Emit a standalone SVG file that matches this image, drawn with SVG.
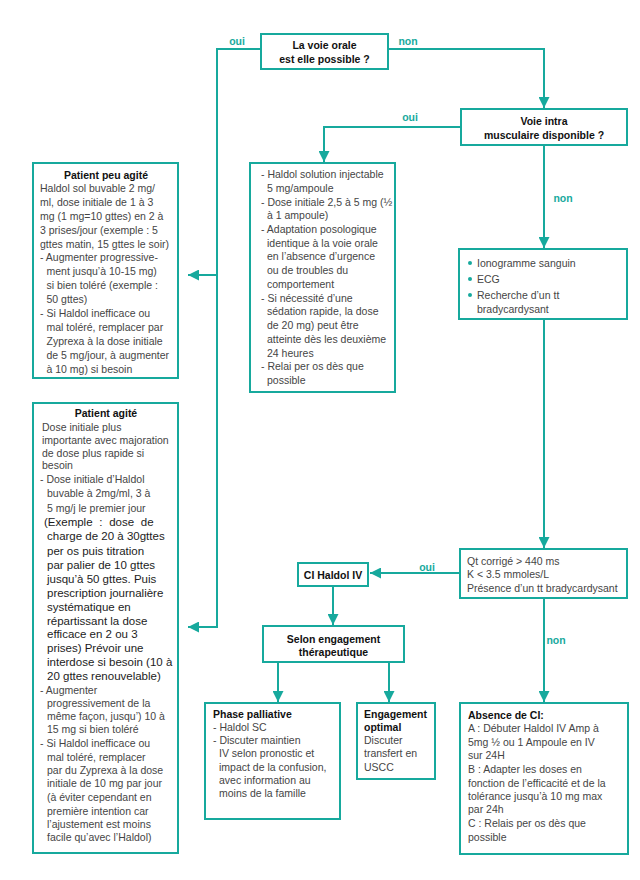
<svg xmlns="http://www.w3.org/2000/svg" width="640" height="880" viewBox="0 0 640 880">
<style>
.box{fill:#fff;stroke:#17a99d;stroke-width:2}
.ln{fill:none;stroke:#17a99d;stroke-width:2}
text{font-family:"Liberation Sans",Arial,sans-serif;font-size:10.5px;fill:#454545}
.b{font-weight:bold;fill:#111}
.c{text-anchor:middle}
.lab{font-weight:bold;fill:#17a99d;font-size:10.5px;text-anchor:middle}
.dk{fill:#1c1c1c;font-size:11.5px}
.dot{fill:#17a99d}
</style>
<defs>
<marker id="ah" viewBox="0 0 10 10" refX="10" refY="5" markerWidth="5.5" markerHeight="5.5" markerUnits="strokeWidth" orient="auto">
<path d="M0,0 L10,5 L0,10 z" fill="#17a99d"/>
</marker>
</defs>
<rect width="640" height="880" fill="#fff"/>

<g id="connectors">
<path class="ln" d="M261,49 H217 V627 H188" marker-end="url(#ah)"/>
<path class="ln" d="M217,275 H188" marker-end="url(#ah)"/>
<path class="ln" d="M388,49 H544 V108" marker-end="url(#ah)"/>
<path class="ln" d="M461,127 H324 V162" marker-end="url(#ah)"/>
<path class="ln" d="M544,145 V248" marker-end="url(#ah)"/>
<path class="ln" d="M544,319 V548" marker-end="url(#ah)"/>
<path class="ln" d="M460,573 H370" marker-end="url(#ah)"/>
<path class="ln" d="M333,586 V625" marker-end="url(#ah)"/>
<path class="ln" d="M278,662 V702" marker-end="url(#ah)"/>
<path class="ln" d="M389,662 V702" marker-end="url(#ah)"/>
<path class="ln" d="M544,598 V702" marker-end="url(#ah)"/>
<text class="lab" x="237" y="45">oui</text>
<text class="lab" x="408" y="45">non</text>
<text class="lab" x="410" y="121">oui</text>
<text class="lab" x="563" y="202">non</text>
<text class="lab" x="427" y="571">oui</text>
<text class="lab" x="556" y="644">non</text>
</g>

<g id="voie-orale">
<rect class="box" x="261" y="34" width="127" height="35"/>
<text class="b c" x="324.5" y="49">La voie orale</text>
<text class="b c" x="324.5" y="63">est elle possible ?</text>
</g>

<g id="voie-im">
<rect class="box" x="461" y="109" width="166" height="36"/>
<text class="b c" x="544" y="125">Voie intra</text>
<text class="b c" x="544" y="139">musculaire disponible ?</text>
</g>

<g id="patient-peu-agite">
<rect class="box" x="33" y="163" width="145" height="215"/>
<text class="b c" x="106" y="179">Patient peu agité</text>
<text x="40" y="192">Haldol sol buvable 2 mg/</text>
<text x="40" y="206">ml, dose initiale de 1 à 3</text>
<text x="40" y="220">mg (1 mg=10 gttes) en 2 à</text>
<text x="40" y="234">3 prises/jour (exemple : 5</text>
<text x="40" y="248">gttes matin, 15 gttes le soir)</text>
<text x="40" y="261">- Augmenter progressive-</text>
<text x="46.5" y="275">ment jusqu’à 10-15 mg)</text>
<text x="46.5" y="289">si bien toléré (exemple :</text>
<text x="46.5" y="303">50 gttes)</text>
<text x="40" y="317">- Si Haldol inefficace ou</text>
<text x="46.5" y="331">mal toléré, remplacer par</text>
<text x="46.5" y="345">Zyprexa à la dose initiale</text>
<text x="46.5" y="359">de 5 mg/jour, à augmenter</text>
<text x="46.5" y="373">à 10 mg) si besoin</text>
</g>

<g id="haldol-im">
<rect class="box" x="250" y="163" width="145" height="229"/>
<text x="261" y="178">- Haldol solution injectable</text>
<text x="267" y="191.7">5 mg/ampoule</text>
<text x="261" y="205.5">- Dose initiale 2,5 à 5 mg (½</text>
<text x="267" y="219.2">à 1 ampoule)</text>
<text x="261" y="232.9">- Adaptation posologique</text>
<text x="267" y="246.7">identique à la voie orale</text>
<text x="267" y="260.4">en l’absence d’urgence</text>
<text x="267" y="274.1">ou de troubles du</text>
<text x="267" y="287.8">comportement</text>
<text x="261" y="301.6">- Si nécessité d’une</text>
<text x="267" y="315.3">sédation rapide, la dose</text>
<text x="267" y="329">de 20 mg) peut être</text>
<text x="267" y="342.8">atteinte dès les deuxième</text>
<text x="267" y="356.5">24 heures</text>
<text x="261" y="370.2">- Relai per os dès que</text>
<text x="267" y="384">possible</text>
</g>

<g id="bilan">
<rect class="box" x="459" y="249" width="168" height="70"/>
<circle class="dot" cx="470" cy="263" r="2"/>
<circle class="dot" cx="470" cy="279" r="2"/>
<circle class="dot" cx="470" cy="295" r="2"/>
<text x="477" y="267">Ionogramme sanguin</text>
<text x="477" y="283">ECG</text>
<text x="477" y="299">Recherche  d’un tt</text>
<text x="477" y="313">bradycardysant</text>
</g>

<g id="patient-agite">
<rect class="box" x="33" y="403" width="145" height="450"/>
<text class="b c" x="106" y="417">Patient agité</text>
<text x="42" y="431">Dose initiale plus</text>
<text x="42" y="444">importante avec majoration</text>
<text x="42" y="457">de dose plus rapide si</text>
<text x="42" y="469">besoin</text>
<text x="40" y="483">- Dose initiale d’Haldol</text>
<text x="47" y="497">buvable à 2mg/ml, 3 à</text>
<text x="47" y="512">5 mg/j le premier jour</text>
<text class="dk" x="44" y="526" word-spacing="3.5">(Exemple : dose de</text>
<text class="dk" x="47" y="540">charge de 20 à 30gttes</text>
<text class="dk" x="47" y="555">per os puis titration</text>
<text class="dk" x="47" y="569">par palier de 10 gttes</text>
<text class="dk" x="47" y="583">jusqu’à 50 gttes. Puis</text>
<text class="dk" x="47" y="597">prescription journalière</text>
<text class="dk" x="47" y="611">systématique en</text>
<text class="dk" x="47" y="625">répartissant la dose</text>
<text class="dk" x="47" y="638">efficace en 2 ou 3</text>
<text class="dk" x="47" y="652">prises) Prévoir une</text>
<text class="dk" x="47" y="666">interdose si besoin (10 à</text>
<text class="dk" x="47" y="680">20 gttes renouvelable)</text>
<text x="40" y="694">- Augmenter</text>
<text x="47" y="707">progressivement de la</text>
<text x="47" y="720">même façon, jusqu’) 10 à</text>
<text x="47" y="733">15 mg si bien toléré</text>
<text x="40" y="747">- Si Haldol inefficace ou</text>
<text x="47" y="761">mal toléré, remplacer</text>
<text x="47" y="774">par du Zyprexa à la dose</text>
<text x="47" y="787">initiale de 10 mg par jour</text>
<text x="47" y="801">(à éviter cependant en</text>
<text x="47" y="815">première intention car</text>
<text x="47" y="828">l’ajustement est moins</text>
<text x="47" y="841">facile qu’avec l’Haldol)</text>
</g>

<g id="qt">
<rect class="box" x="460" y="549" width="167" height="49"/>
<text x="467" y="565">Qt corrigé &gt; 440 ms</text>
<text x="467" y="578">K &lt; 3.5 mmoles/L</text>
<text x="467" y="592">Présence d’un tt bradycardysant</text>
</g>

<g id="ci-haldol">
<rect class="box" x="298" y="563" width="70" height="23"/>
<text class="b c" x="333" y="579">CI Haldol IV</text>
</g>

<g id="selon">
<rect class="box" x="263" y="626" width="141" height="36"/>
<text class="b c" x="333.5" y="643">Selon engagement</text>
<text class="b c" x="333.5" y="656">thérapeutique</text>
</g>

<g id="palliative">
<rect class="box" x="205" y="703" width="135" height="116"/>
<text class="b" x="213" y="718">Phase palliative</text>
<text x="213" y="731">- Haldol SC</text>
<text x="213" y="744">- Discuter maintien</text>
<text x="219" y="757">IV selon pronostic et</text>
<text x="219" y="771">impact de la confusion,</text>
<text x="219" y="784">avec information au</text>
<text x="219" y="797">moins de la famille</text>
</g>

<g id="optimal">
<rect class="box" x="357" y="703" width="78" height="76"/>
<text class="b" x="364" y="718">Engagement</text>
<text class="b" x="364" y="731">optimal</text>
<text x="364" y="744">Discuter</text>
<text x="364" y="757">transfert en</text>
<text x="364" y="771">USCC</text>
</g>

<g id="absence-ci">
<rect class="box" x="460" y="703" width="168" height="151"/>
<text class="b" x="468" y="719">Absence de CI:</text>
<text x="468" y="732">A : Débuter Haldol IV Amp à</text>
<text x="468" y="746">5mg ½ ou 1 Ampoule en IV</text>
<text x="468" y="759">sur 24H</text>
<text x="468" y="773">B :  Adapter les doses en</text>
<text x="468" y="787">fonction de l’efficacité et de la</text>
<text x="468" y="800">tolérance jusqu’à 10 mg max</text>
<text x="468" y="813">par 24h</text>
<text x="468" y="827">C : Relais per os dès que</text>
<text x="468" y="841">possible</text>
</g>
</svg>
